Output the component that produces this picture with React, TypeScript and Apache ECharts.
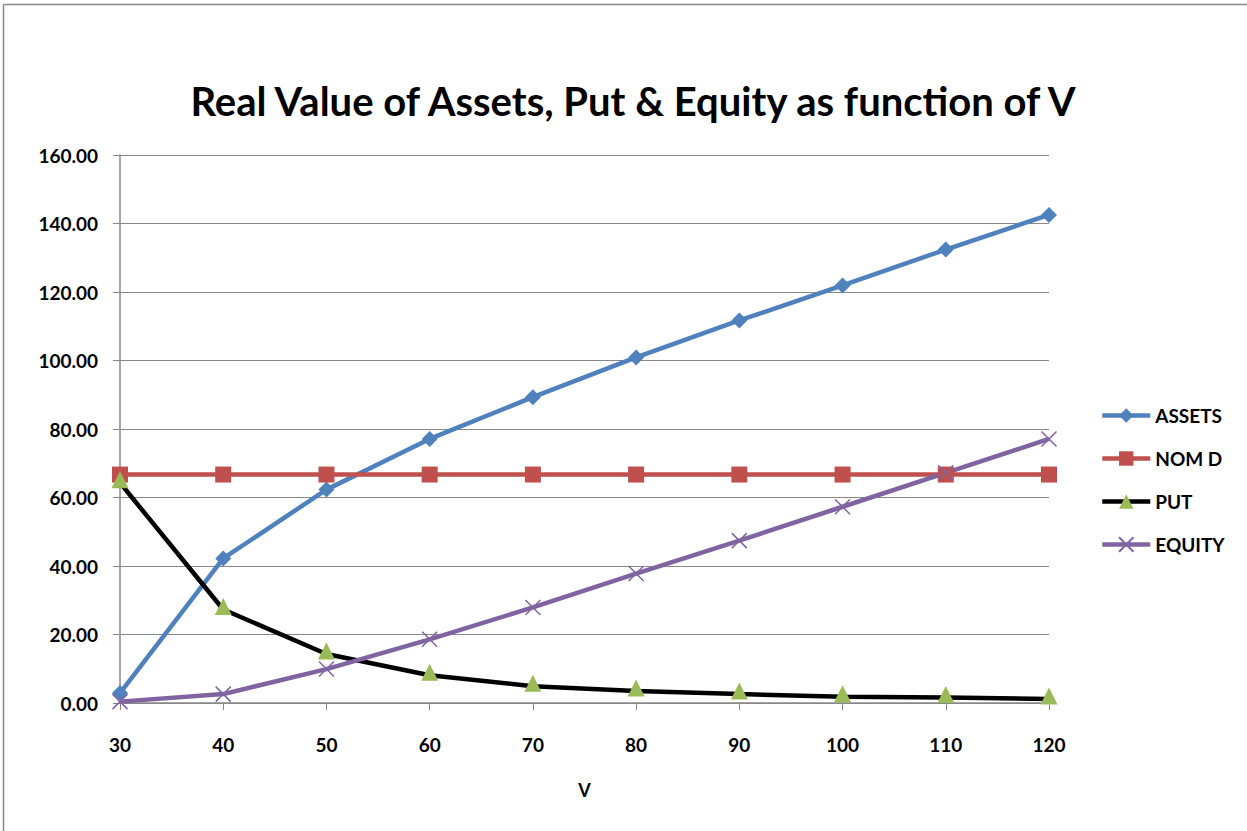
import React, { useEffect, useRef } from "react";
import * as echarts from "echarts";

const categories = ["30", "40", "50", "60", "70", "80", "90", "100", "110", "120"];
const assets = [2.9, 42.2, 62.3, 77.1, 89.3, 100.9, 111.7, 121.9, 132.4, 142.5];
const nomD = [66.7, 66.7, 66.7, 66.7, 66.7, 66.7, 66.7, 66.7, 66.7, 66.7];
const put = [64.3, 27.3, 14.3, 8.1, 4.9, 3.5, 2.6, 1.8, 1.6, 1.2];
const equity = [0.4, 2.6, 9.9, 18.6, 27.9, 37.8, 47.4, 57.3, 67.2, 77.1];
const seriesNames = ["ASSETS", "NOM D", "PUT", "EQUITY"];

const FONT = "Lato";
const CROSS = "path://M0,0L10,10M10,0L0,10";

export default function App() {
  const ref = useRef<HTMLDivElement>(null);
  useEffect(() => {
    const chart = echarts.init(ref.current!, null, { renderer: "svg" });
    chart.setOption({
      animation: false,
      backgroundColor: "#ffffff",
      textStyle: { fontFamily: FONT },
      title: {
        text: "Real Value of Assets, Put & Equity as function of V",
        left: 628,
        textAlign: "center",
        top: 76,
        textStyle: { fontFamily: FONT, fontWeight: "bold", fontSize: 40, color: "#000" },
      },
      graphic: [
        { type: "line", shape: { x1: 3.5, y1: 4.5, x2: 1247, y2: 4.5 }, style: { stroke: "#888", lineWidth: 1.5 } },
        { type: "line", shape: { x1: 3.5, y1: 4.5, x2: 3.5, y2: 831 }, style: { stroke: "#888", lineWidth: 1.5 } },
      ],
      legend: {
        orient: "vertical",
        left: 1095,
        top: 401,
        itemWidth: 48,
        itemHeight: 18,
        itemGap: 24,
        lineStyle: { width: 4.5 },
        textStyle: { fontFamily: FONT, fontWeight: "bold", fontSize: 19, color: "#000" },
        data: seriesNames.map((n) => ({ name: n, lineStyle: { width: 4.5 } })),
      },
      grid: { left: 120, right: 198, top: 155, bottom: 128, containLabel: false },
      xAxis: {
        type: "category",
        data: categories,
        boundaryGap: false,
        name: "V",
        nameLocation: "middle",
        nameGap: 78,
        nameTextStyle: { fontFamily: FONT, fontWeight: "bold", fontSize: 18, color: "#000" },
        axisLine: { lineStyle: { color: "#888", width: 1.5 } },
        axisTick: { show: true, length: 7, lineStyle: { color: "#888" } },
        axisLabel: { margin: 32, fontFamily: FONT, fontWeight: "bold", fontSize: 19, color: "#000" },
      },
      yAxis: {
        type: "value",
        min: 0,
        max: 160,
        interval: 20,
        axisLine: { show: true, lineStyle: { color: "#888", width: 1.5 } },
        axisTick: { show: true, length: 7, lineStyle: { color: "#888" } },
        splitLine: { lineStyle: { color: "#888", width: 1.2 } },
        axisLabel: {
          margin: 22,
          fontFamily: FONT,
          fontWeight: "bold",
          fontSize: 19,
          color: "#000",
          formatter: (v: number) => v.toFixed(2),
        },
      },
      series: [
        {
          name: seriesNames[0],
          type: "line",
          data: assets,
          symbol: "diamond",
          symbolSize: 16,
          lineStyle: { color: "#4F81BD", width: 4.5 },
          itemStyle: { color: "#4F81BD" },
        },
        {
          name: seriesNames[1],
          type: "line",
          data: nomD,
          symbol: "rect",
          symbolSize: 16,
          lineStyle: { color: "#C0504D", width: 4.5 },
          itemStyle: { color: "#C0504D" },
        },
        {
          name: seriesNames[2],
          type: "line",
          data: put,
          symbol: "triangle",
          symbolSize: 17,
          symbolOffset: [0, -3],
          lineStyle: { color: "#000000", width: 4.5 },
          itemStyle: { color: "#9BBB59" },
        },
        {
          name: seriesNames[3],
          type: "line",
          data: equity,
          symbol: CROSS,
          symbolSize: 15,
          lineStyle: { color: "#8064A2", width: 4.5 },
          itemStyle: { color: "#8064A2", borderColor: "#8064A2", borderWidth: 1.5 },
        },
      ],
    });
    return () => chart.dispose();
  }, []);
  return (
    <div
      ref={ref}
      style={{ position: "absolute", left: 0, top: 0, width: 1247, height: 831 }}
    />
  );
}
